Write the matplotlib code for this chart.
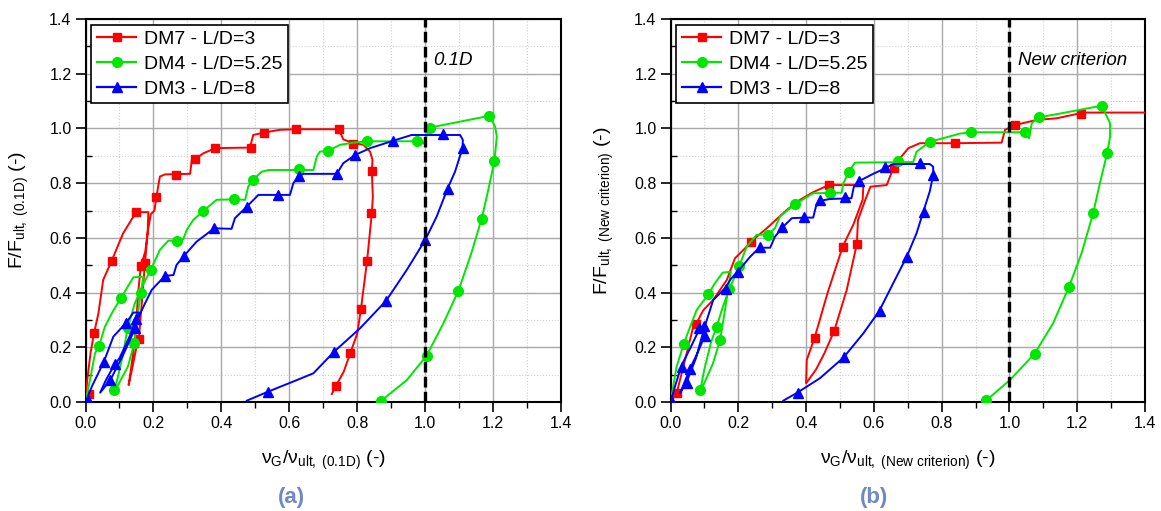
import matplotlib
matplotlib.use('Agg')
import matplotlib.pyplot as plt
from matplotlib.lines import Line2D
from matplotlib.ticker import MultipleLocator

plt.rcParams['font.family'] = ['Liberation Sans', 'DejaVu Sans']
plt.rcParams['mathtext.fontset'] = 'custom'
plt.rcParams['mathtext.rm'] = 'Liberation Sans'
plt.rcParams['mathtext.it'] = 'Liberation Sans:italic'
plt.rcParams['mathtext.bf'] = 'Liberation Sans:bold'

# ---------------- data ----------------
series_labels = ['DM7 - L/D=3', 'DM4 - L/D=5.25', 'DM3 - L/D=8']
series_colors = ['#ff0000', '#00e600', '#0000ff']
series_markers = ['s', 'o', '^']
panel_captions = ['(a)', '(b)']
criterion_texts = ['0.1D', 'New criterion']
xlabels = [r'$\mathrm{\nu_G/\nu_{ult,\ (0.1D)}}$ (-)',
           r'$\mathrm{\nu_G/\nu_{ult,\ (New\ criterion)}}$ (-)']
ylabels = [r'F/F$_\mathrm{ult,\ (0.1D)}$ (-)',
           r'F/F$_\mathrm{ult,\ (New\ criterion)}$ (-)']

# Panel (a) -- curve paths
a_dm7_x = [0.0, 0.005, 0.015, 0.025, 0.038, 0.052, 0.077, 0.095, 0.111, 0.149, 0.185, 0.183, 0.176, 0.163,
           0.155, 0.150, 0.144, 0.135, 0.127, 0.137, 0.150, 0.157, 0.165, 0.175, 0.183, 0.192, 0.203, 0.209,
           0.219, 0.234, 0.308, 0.313, 0.322, 0.347, 0.382, 0.484, 0.494, 0.525, 0.573, 0.621, 0.746, 0.759,
           0.784, 0.818, 0.838, 0.845, 0.843, 0.846, 0.843, 0.829, 0.811, 0.800, 0.780, 0.760, 0.737, 0.725]
a_dm7_y = [0.0, 0.08, 0.18, 0.251, 0.324, 0.446, 0.516, 0.57, 0.617, 0.694, 0.694, 0.62, 0.55, 0.498,
           0.40, 0.30, 0.214, 0.13, 0.062, 0.12, 0.20, 0.229, 0.35, 0.507, 0.62, 0.686, 0.70, 0.751,
           0.824, 0.832, 0.834, 0.885, 0.887, 0.909, 0.928, 0.930, 0.976, 0.985, 0.995, 0.997, 0.997, 0.960,
           0.948, 0.940, 0.915, 0.885, 0.845, 0.75, 0.69, 0.516, 0.340, 0.25, 0.180, 0.11, 0.058, 0.029]
a_dm7_mx = [0.011, 0.025, 0.077, 0.149, 0.163, 0.144, 0.157, 0.175, 0.209, 0.265, 0.322, 0.382, 0.487,
            0.525, 0.621, 0.746, 0.789, 0.843, 0.842, 0.829, 0.811, 0.780, 0.737]
a_dm7_my = [0.028, 0.251, 0.516, 0.694, 0.498, 0.214, 0.229, 0.507, 0.751, 0.830, 0.887, 0.928, 0.930,
            0.985, 0.997, 0.997, 0.943, 0.845, 0.690, 0.516, 0.340, 0.180, 0.058]

a_dm4_x = [0.0, 0.013, 0.028, 0.040, 0.057, 0.080, 0.105, 0.141, 0.170, 0.163, 0.155, 0.144, 0.125, 0.095,
           0.085, 0.095, 0.110, 0.124, 0.145, 0.170, 0.192, 0.219, 0.244, 0.270, 0.288, 0.298, 0.317, 0.347,
           0.386, 0.438, 0.470, 0.479, 0.493, 0.519, 0.540, 0.671, 0.681, 0.690, 0.715, 0.749, 0.789, 0.830,
           0.977, 0.995, 1.000, 1.014, 1.189, 1.206, 1.211, 1.204, 1.185, 1.166, 1.135, 1.098, 1.054, 1.004,
           0.946, 0.870]
a_dm4_y = [0.0, 0.080, 0.178, 0.205, 0.275, 0.33, 0.381, 0.456, 0.458, 0.400, 0.33, 0.217, 0.13, 0.06,
           0.044, 0.09, 0.17, 0.269, 0.36, 0.43, 0.483, 0.556, 0.590, 0.590, 0.595, 0.629, 0.665, 0.699,
           0.739, 0.741, 0.739, 0.787, 0.812, 0.842, 0.848, 0.848, 0.897, 0.915, 0.918, 0.940, 0.948, 0.953,
           0.953, 0.945, 0.96, 1.003, 1.046, 1.007, 0.970, 0.881, 0.77, 0.668, 0.54, 0.407, 0.288, 0.169,
           0.080, 0.004]
a_dm4_mx = [0.040, 0.105, 0.124, 0.144, 0.085, 0.163, 0.192, 0.270, 0.347, 0.438, 0.493, 0.630, 0.715,
            0.830, 0.977, 1.014, 1.189, 1.204, 1.166, 1.098, 1.004, 0.870]
a_dm4_my = [0.205, 0.381, 0.269, 0.217, 0.044, 0.400, 0.483, 0.590, 0.699, 0.741, 0.812, 0.851, 0.918,
            0.953, 0.953, 1.003, 1.046, 0.881, 0.668, 0.407, 0.169, 0.004]

a_dm3_x = [0.0, 0.02, 0.054, 0.082, 0.120, 0.141, 0.158, 0.149, 0.130, 0.100, 0.086, 0.060, 0.043, 0.073,
           0.110, 0.146, 0.160, 0.175, 0.195, 0.234, 0.259, 0.268, 0.290, 0.327, 0.379, 0.430, 0.440, 0.475,
           0.509, 0.602, 0.612, 0.630, 0.642, 0.740, 0.759, 0.794, 0.838, 0.906, 0.960, 1.103, 1.111, 1.110,
           1.088, 1.066, 1.034, 1.000, 0.946, 0.885, 0.808, 0.732, 0.671, 0.622, 0.538, 0.475]
a_dm3_y = [0.0, 0.06, 0.147, 0.239, 0.290, 0.327, 0.327, 0.303, 0.24, 0.16, 0.138, 0.08, 0.034, 0.080,
           0.17, 0.269, 0.32, 0.36, 0.410, 0.461, 0.464, 0.501, 0.534, 0.586, 0.635, 0.633, 0.672, 0.714,
           0.757, 0.757, 0.800, 0.827, 0.834, 0.834, 0.873, 0.903, 0.928, 0.955, 0.976, 0.976, 0.958, 0.928,
           0.842, 0.780, 0.678, 0.592, 0.483, 0.370, 0.269, 0.184, 0.105, 0.080, 0.038, 0.005]
a_dm3_mx = [0.007, 0.054, 0.120, 0.149, 0.146, 0.086, 0.073, 0.234, 0.290, 0.379, 0.475, 0.568, 0.630,
            0.740, 0.794, 0.906, 1.054, 1.110, 1.066, 1.000, 0.885, 0.732, 0.538]
a_dm3_my = [0.007, 0.147, 0.290, 0.302, 0.269, 0.138, 0.080, 0.461, 0.534, 0.635, 0.714, 0.757, 0.827,
            0.834, 0.903, 0.955, 0.980, 0.928, 0.780, 0.592, 0.370, 0.184, 0.038]

# Panel (b) -- curve paths
b_dm7_x = [0.0, 0.018, 0.038, 0.067, 0.074, 0.097, 0.126, 0.166, 0.190, 0.225, 0.237, 0.284, 0.343, 0.382,
           0.421, 0.467, 0.569, 0.567, 0.540, 0.508, 0.463, 0.425, 0.402, 0.400, 0.430, 0.454, 0.483, 0.520,
           0.550, 0.553, 0.575, 0.590, 0.638, 0.657, 0.677, 0.702, 0.736, 0.839, 0.977, 0.987, 1.018, 1.080,
           1.139, 1.211, 1.225, 1.45]
b_dm7_y = [0.0, 0.032, 0.129, 0.275, 0.282, 0.336, 0.373, 0.446, 0.525, 0.568, 0.586, 0.635, 0.702, 0.739,
           0.767, 0.793, 0.793, 0.74, 0.65, 0.568, 0.397, 0.234, 0.154, 0.068, 0.12, 0.178, 0.260, 0.410,
           0.579, 0.665, 0.74, 0.787, 0.793, 0.854, 0.891, 0.928, 0.946, 0.946, 0.948, 0.995, 1.013, 1.031,
           1.037, 1.056, 1.058, 1.058]
b_dm7_mx = [0.019, 0.074, 0.237, 0.468, 0.425, 0.483, 0.508, 0.550, 0.660, 0.839, 1.017, 1.211]
b_dm7_my = [0.032, 0.285, 0.586, 0.792, 0.234, 0.260, 0.568, 0.579, 0.854, 0.946, 1.012, 1.053]

b_dm4_x = [0.0, 0.018, 0.039, 0.058, 0.077, 0.112, 0.131, 0.154, 0.178, 0.171, 0.160, 0.146, 0.125, 0.100,
           0.088, 0.100, 0.120, 0.136, 0.155, 0.174, 0.203, 0.225, 0.254, 0.289, 0.308, 0.323, 0.367, 0.421,
           0.505, 0.510, 0.527, 0.544, 0.716, 0.726, 0.765, 0.854, 0.886, 1.047, 1.058, 1.066, 1.085, 1.139,
           1.272, 1.297, 1.297, 1.289, 1.267, 1.247, 1.213, 1.176, 1.129, 1.074, 1.001, 0.931]
b_dm4_y = [0.0, 0.129, 0.212, 0.275, 0.336, 0.394, 0.434, 0.473, 0.476, 0.422, 0.33, 0.225, 0.14, 0.07,
           0.044, 0.12, 0.22, 0.275, 0.35, 0.414, 0.498, 0.568, 0.611, 0.613, 0.635, 0.678, 0.723, 0.763,
           0.765, 0.800, 0.842, 0.875, 0.877, 0.915, 0.951, 0.981, 0.986, 0.986, 0.964, 1.019, 1.040, 1.052,
           1.083, 1.019, 0.970, 0.913, 0.800, 0.690, 0.544, 0.422, 0.288, 0.176, 0.080, 0.005]
b_dm4_mx = [0.039, 0.112, 0.136, 0.146, 0.088, 0.174, 0.203, 0.289, 0.367, 0.471, 0.528, 0.671, 0.765,
            0.886, 1.047, 1.086, 1.272, 1.288, 1.248, 1.176, 1.074, 0.932]
b_dm4_my = [0.212, 0.395, 0.275, 0.225, 0.044, 0.414, 0.498, 0.609, 0.722, 0.765, 0.841, 0.881, 0.952,
            0.986, 0.986, 1.041, 1.082, 0.912, 0.690, 0.422, 0.176, 0.007]

b_dm3_x = [0.0, 0.013, 0.033, 0.058, 0.084, 0.102, 0.100, 0.080, 0.058, 0.028, 0.048, 0.075, 0.100, 0.126,
           0.161, 0.178, 0.200, 0.235, 0.262, 0.294, 0.308, 0.331, 0.358, 0.397, 0.421, 0.429, 0.441, 0.470,
           0.534, 0.541, 0.554, 0.598, 0.633, 0.657, 0.765, 0.775, 0.775, 0.765, 0.746, 0.726, 0.697, 0.657,
           0.616, 0.569, 0.510, 0.441, 0.374, 0.333]
b_dm3_y = [0.0, 0.056, 0.135, 0.196, 0.263, 0.282, 0.239, 0.18, 0.123, 0.032, 0.074, 0.16, 0.272, 0.373,
           0.416, 0.450, 0.479, 0.531, 0.564, 0.564, 0.604, 0.639, 0.672, 0.674, 0.674, 0.714, 0.735, 0.742,
           0.745, 0.787, 0.806, 0.834, 0.854, 0.870, 0.870, 0.860, 0.830, 0.77, 0.696, 0.617, 0.531, 0.434,
           0.333, 0.251, 0.162, 0.087, 0.034, 0.005]
b_dm3_mx = [0.0, 0.034, 0.050, 0.058, 0.085, 0.100, 0.101, 0.163, 0.200, 0.265, 0.330, 0.395, 0.440,
            0.516, 0.555, 0.634, 0.736, 0.775, 0.748, 0.697, 0.617, 0.511, 0.377]
b_dm3_my = [0.007, 0.129, 0.068, 0.121, 0.269, 0.278, 0.241, 0.414, 0.477, 0.566, 0.639, 0.675, 0.737,
            0.748, 0.809, 0.858, 0.875, 0.830, 0.696, 0.531, 0.334, 0.163, 0.032]

panels = [
    [(a_dm7_x, a_dm7_y, a_dm7_mx, a_dm7_my),
     (a_dm4_x, a_dm4_y, a_dm4_mx, a_dm4_my),
     (a_dm3_x, a_dm3_y, a_dm3_mx, a_dm3_my)],
    [(b_dm7_x, b_dm7_y, b_dm7_mx, b_dm7_my),
     (b_dm4_x, b_dm4_y, b_dm4_mx, b_dm4_my),
     (b_dm3_x, b_dm3_y, b_dm3_mx, b_dm3_my)],
]
criterion_x = 1.0

# ---------------- figure ----------------
W, H = 1161, 511
fig = plt.figure(figsize=(W / 100, H / 100), dpi=100)
axes_px = [(85.5, 475.5), (670.5, 474.5)]
caption_px = [291, 874]
marker_sizes = {'s': 6.0, 'o': 7.0, '^': 7.5}

for p, (series, (x0, w)) in enumerate(zip(panels, axes_px)):
    ax = fig.add_axes([x0 / W, (511 - 402) / H, w / W, 383 / H])
    for (lx, ly, mx, my), c, m in zip(series, series_colors, series_markers):
        ax.plot(lx, ly, color=c, lw=1.4, zorder=3, solid_joinstyle='round')
        ax.plot(mx, my, ls='none', marker=m, color=c, ms=marker_sizes[m], zorder=3)
    ax.axvline(criterion_x, color='black', lw=2.4, ls=(0, (3.2, 1.3)), zorder=4)
    ax.text(criterion_x + 0.025, 1.25, criterion_texts[p], fontsize=13.5, style='italic',
            ha='left', va='center', zorder=5)

    ax.set_xlim(0, 1.4)
    ax.set_ylim(0, 1.4)
    ax.xaxis.set_major_locator(MultipleLocator(0.2))
    ax.yaxis.set_major_locator(MultipleLocator(0.2))
    ax.xaxis.set_minor_locator(MultipleLocator(0.1))
    ax.yaxis.set_minor_locator(MultipleLocator(0.1))
    ax.xaxis.set_major_formatter(plt.FuncFormatter(lambda v, _: f'{v:.1f}'))
    ax.yaxis.set_major_formatter(plt.FuncFormatter(lambda v, _: f'{v:.1f}'))
    ax.grid(which='major', color='#a8a8a8', lw=1.0, ls='-', zorder=0)
    ax.grid(which='minor', color='#d0d0d0', lw=0.8, ls=':', zorder=0)
    ax.set_axisbelow(True)
    ax.tick_params(which='major', direction='out', length=7, width=1.2, labelsize=11.5, pad=3)
    ax.tick_params(axis='x', which='minor', direction='out', length=4, width=1.0)
    ax.tick_params(axis='y', which='minor', direction='in', length=4, width=1.0)
    for s in ax.spines.values():
        s.set_linewidth(1.5)
        s.set_color('black')

    ax.set_xlabel(xlabels[p], fontsize=14, labelpad=13)
    ax.set_ylabel(ylabels[p], fontsize=14, labelpad=13)

    handles = [Line2D([], [], color=c, marker=m, lw=1.6, ms=marker_sizes[m])
               for c, m in zip(series_colors, series_markers)]
    leg = ax.legend(handles, series_labels, loc='upper left', fontsize=14, frameon=True,
                    fancybox=False, edgecolor='black', framealpha=1, borderaxespad=0.3,
                    handlelength=2.0, handletextpad=0.4, labelspacing=0.36, borderpad=0.3)
    leg.get_frame().set_linewidth(1.2)
    leg.set_zorder(6)

    fig.text(caption_px[p] / W, 1 - 498 / H, panel_captions[p], ha='center', va='center',
             fontsize=16, fontweight='bold', color='#7089c4')

fig.savefig('out.png', dpi=100)
